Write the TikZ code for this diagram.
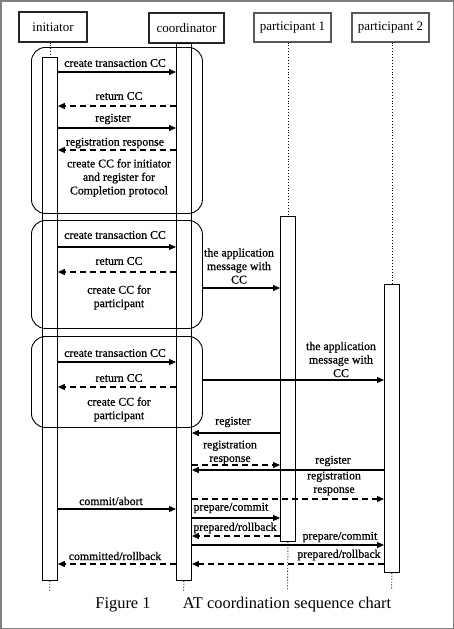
\documentclass[tikz,border=0pt]{standalone}
\usepackage{fontspec}
\setmainfont{Liberation Serif}
\newfontfamily\lblfont[FakeBold=0.7]{Liberation Serif}
\usetikzlibrary{arrows.meta}
\begin{document}
\begin{tikzpicture}[x=1pt,y=-1pt,
  lbl/.style={font=\lblfont\fontsize{11.8}{13.5}\selectfont, align=center, inner sep=0pt},
  head/.style={draw=black!85, line width=1.1pt, inner sep=0pt, font=\fontsize{13}{15}\selectfont},
  bar/.style={draw, line width=0.9pt, fill=white, anchor=north west, inner sep=0pt, minimum width=15pt},
  grp/.style={draw, line width=0.9pt, rounded corners=14pt, anchor=north west, inner sep=0pt, minimum width=171pt},
  msg/.style={line width=1.2pt, -{Triangle[length=7pt,width=6pt]}},
  ret/.style={msg, dash pattern=on 6pt off 4pt},
  life/.style={dotted, line width=0.9pt}]
\useasboundingbox (0,0) rectangle (454,629);
\draw[black!50, line width=1.5pt] (0.75,0.75) rectangle (453.25,628.25);

% headers
\node[head, minimum width=68pt, minimum height=30pt] (hini) at (53,27) {initiator};
\node[head, minimum width=75pt, minimum height=30pt] (hcoo) at (186.5,28) {coordinator};
\node[head, draw=black!65, minimum width=77pt, minimum height=29pt] (hp1) at (292.5,27.5) {participant 1};
\node[head, draw=black!65, minimum width=77pt, minimum height=29pt] (hp2) at (390.5,27.5) {participant 2};

% activation bars
\node[bar, minimum height=523pt] (bini) at (42,57) {};
\node[bar, minimum height=537pt] (bcoo) at (176,43) {};
\node[bar, minimum height=325pt] (bp1) at (280,216) {};
\node[bar, minimum height=288pt] (bp2) at (384,284) {};

% lifelines
\coordinate (eini) at (49.5,592);
\coordinate (ecoo) at (183.5,592);
\coordinate (ep1) at (287.5,590);
\coordinate (ep2) at (391.5,590);
\draw[life] (bini.north |- hini.south) -- (bini.north);
\draw[life] (bp1.north |- hp1.south) -- (bp1.north);
\draw[life] (bp2.north |- hp2.south) -- (bp2.north);
\draw[life] (bini.south) -- (eini);
\draw[life] (bcoo.south) -- (ecoo);
\draw[life] (bp1.south) -- (ep1);
\draw[life] (bp2.south) -- (ep2);

% groups
\node[grp, minimum height=166pt] (g1) at (31,47) {};
\node[grp, minimum height=108pt] (g2) at (31,220) {};
\node[grp, minimum height=91pt] (g3) at (31,336) {};

% group 1
\node[lbl] (l1) at (115,63) {create transaction CC};
\draw[msg] (bini.east |- 0,72) -- (bcoo.west |- 0,72);
\node[lbl] (l2) at (119,96) {return CC};
\draw[ret] (bcoo.west |- 0,106) -- (bini.east |- 0,106);
\node[lbl] (l3) at (113,119) {register};
\draw[msg] (bini.east |- 0,128) -- (bcoo.west |- 0,128);
\node[lbl] (l4) at (115,143) {registration response};
\draw[ret] (bcoo.west |- 0,150) -- (bini.east |- 0,150);
\node[lbl] (n1) at (119,178) {create CC for initiator\\and register for\\Completion protocol};

% group 2
\node[lbl] (l5) at (115,235) {create transaction CC};
\draw[msg] (bini.east |- 0,247) -- (bcoo.west |- 0,247);
\node[lbl] (l6) at (119,261) {return CC};
\draw[ret] (bcoo.west |- 0,272) -- (bini.east |- 0,272);
\node[lbl] (n2) at (119,297.5) {create CC for\\participant};
\node[lbl] (a1) at (239,266) {the application\\message with\\CC};
\draw[msg] (g2.east |- 0,288) -- (bp1.west |- 0,288);

% group 3
\node[lbl] (l7) at (115,353) {create transaction CC};
\draw[msg] (bini.east |- 0,362) -- (bcoo.west |- 0,362);
\node[lbl] (l8) at (119,378) {return CC};
\draw[ret] (bcoo.west |- 0,387) -- (bini.east |- 0,387);
\node[lbl] (n3) at (119,409.5) {create CC for\\participant};
\node[lbl] (a2) at (341,359.5) {the application\\message with\\CC};
\draw[msg] (g3.east |- 0,380) -- (bp2.west |- 0,380);

% registration of participants
\node[lbl] (r1) at (233,422) {register};
\draw[msg] (bp1.west |- 0,433) -- (bcoo.east |- 0,433);
\node[lbl] (r2) at (230,452.5) {registration\\response};
\draw[ret] (bcoo.east |- 0,465) -- (bp1.west |- 0,465);
\node[lbl] (r3) at (333,461) {register};
\draw[msg] (bp2.west |- 0,470) -- (bcoo.east |- 0,470);
\node[lbl] (r4) at (334,483.5) {registration\\response};
\draw[ret] (bcoo.east |- 0,499) -- (bp2.west |- 0,499);

% completion
\node[lbl] (c1) at (111,501) {commit/abort};
\draw[msg] (bini.east |- 0,509) -- (bcoo.west |- 0,509);
\node[lbl] (c2) at (231,508) {prepare/commit};
\draw[msg] (bcoo.east |- 0,518) -- (bp1.west |- 0,518);
\node[lbl] (c3) at (235,528) {prepared/rollback};
\draw[ret] (bp1.west |- 0,536) -- (bcoo.east |- 0,536);
\node[lbl] (c4) at (340,537) {prepare/commit};
\draw[msg] (bcoo.east |- 0,545) -- (bp2.west |- 0,545);
\node[lbl] (c5) at (339,555) {prepared/rollback};
\draw[ret] (bp2.west |- 0,564) -- (bcoo.east |- 0,564);
\node[lbl] (c6) at (115,556) {committed/rollback};
\draw[ret] (bcoo.west |- 0,564) -- (bini.east |- 0,564);

% caption
\node[inner sep=0pt, font=\fontsize{16.4}{19}\selectfont] (cap1) at (123,605) {Figure 1};
\node[inner sep=0pt, font=\fontsize{16.4}{19}\selectfont] (cap2) at (287,605) {AT coordination sequence chart};
\end{tikzpicture}
\end{document}
